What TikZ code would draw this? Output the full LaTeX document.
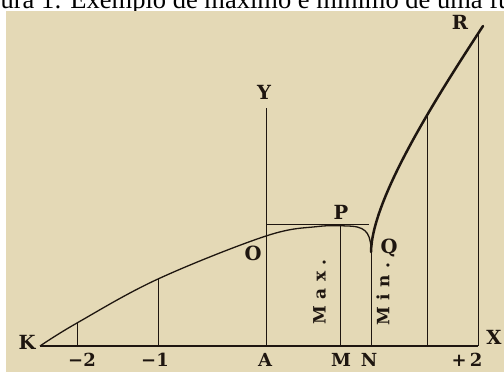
\documentclass[tikz,border=0pt]{standalone}
\usepackage{fontspec}
\setmainfont{DejaVu Serif}
\newfontfamily\capfont{Liberation Serif}
\definecolor{paper}{RGB}{228,217,182}
\definecolor{ink}{RGB}{30,22,16}
\newcommand{\gap}{\hspace{6.5pt}}
\tikzset{
  lbl/.style={inner sep=0pt, text=ink, font=\bfseries\fontsize{19.5}{20}\selectfont},
  axlbl/.style={inner sep=0pt, anchor=base, text=ink, font=\bfseries\fontsize{18}{19}\selectfont},
  vlbl/.style={inner sep=0pt, text=ink, rotate=90, font=\bfseries\fontsize{17}{18}\selectfont},
  thin line/.style={draw=ink, line width=1.3pt},
  ord line/.style={draw=ink, line width=1pt},
  thick curve/.style={draw=ink, line width=2.5pt, line cap=round},
}
\begin{document}
\begin{tikzpicture}[x=1pt,y=1pt]
\useasboundingbox (0,0) rectangle (504,372);
\begin{scope}
\clip (0,0) rectangle (504,372);
\node[anchor=base west, inner sep=0pt, font=\capfont\fontsize{26.5}{30}\selectfont] (cap) at (-35,363) {Figura 1: Exemplo de máximo e mínimo de uma função};
\fill[paper] (6,0) rectangle (504,361);
\end{scope}
% key points
\coordinate (K0) at (40,26);
\coordinate (Xend) at (478,26);
\coordinate (Ytop) at (266,264);
\coordinate (Hbeg) at (266,147);
\coordinate (Hend) at (369,147);
\coordinate (Qc) at (371,120);
\coordinate (R0) at (483,346);
% axis
\draw[thin line] (K0) -- (Xend);
% ordinates
\coordinate (a2) at (77,26); \coordinate (t2) at (77,49);
\coordinate (a1) at (158,26); \coordinate (t1) at (158,93);
\coordinate (aA) at (266,26);
\coordinate (aM) at (340,26); \coordinate (tM) at (340,147);
\coordinate (aN) at (371,26);
\coordinate (a3) at (427,26); \coordinate (t3) at (427,259);
\coordinate (a4) at (478,26); \coordinate (t4) at (478,338);
\draw[ord line] (a2) -- (t2);
\draw[ord line] (a1) -- (t1);
\draw[ord line] (aA) -- (Ytop);
\draw[ord line] (aM) -- (tM);
\draw[ord line] (aN) -- (Qc);
\draw[ord line] (a3) -- (t3);
\draw[ord line] (a4) -- (t4);
% horizontal through P
\draw[ord line] (Hbeg) -- (Hend);
% thin branch K -> P -> Q
\draw[thin line] plot[smooth, tension=0.6] coordinates {(40,26) (77,49) (158,93) (266,136) (318,145.5) (346,146)}
   .. controls (364,146) and (370,141) .. (371,124) -- (Qc);
% thick branch Q -> R
\draw[thick curve] (Qc) .. controls (372,175) and (440,280) .. (R0);
% labels
\node[lbl] (K) at (27,30) {K};
\node[lbl] (X) at (494,35) {X};
\node[lbl] (Y) at (264,280) {Y};
\node[lbl] (P) at (341,160) {P};
\node[lbl] (O) at (253,119) {O};
\node[lbl] (Q) at (389,124) {Q};
\node[lbl] (R) at (460,350) {R};
\node[axlbl] (m2) at (82,5) {−2};
\node[axlbl] (m1) at (155,5) {−1};
\node[axlbl] (A) at (265,5) {A};
\node[axlbl] (M) at (341,5) {M};
\node[axlbl] (N) at (369,5) {N};
\node[axlbl] (p2) at (467,5) {+\hspace{3pt}2};
\node[vlbl] (Max) at (319.5,80) {M\gap a\gap x\gap .};
\node[vlbl] (Min) at (383,78) {M\gap i\gap n\gap .};
\end{tikzpicture}
\end{document}
